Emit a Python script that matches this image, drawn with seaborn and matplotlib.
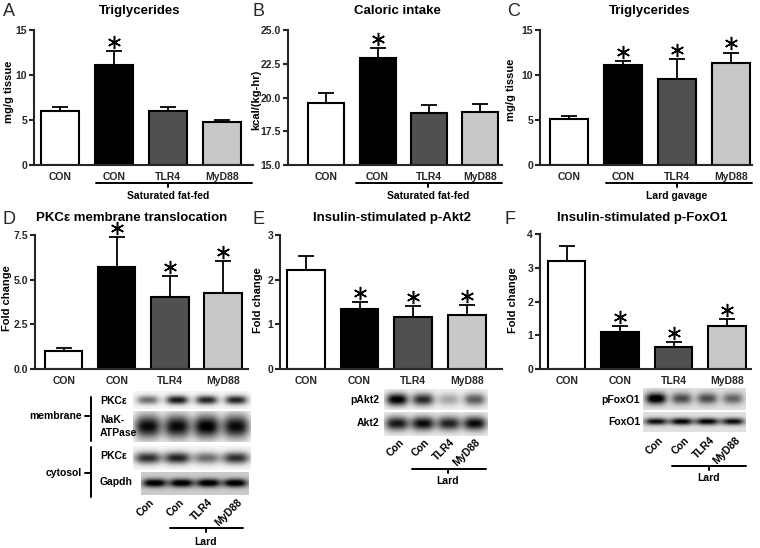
import numpy as np
import pandas as pd
import seaborn as sns
import matplotlib.pyplot as plt
from matplotlib.transforms import offset_copy

W, H = 760, 548

# bar data (mean, upper SEM)
groups = ["CON", "CON", "TLR4", "MyD88"]
bar_colors = ["#ffffff", "#000000", "#505050", "#c8c8c8"]

tg_sfa = [6.0, 11.1, 5.95, 4.75]
tg_sfa_err = [0.5, 1.6, 0.5, 0.25]
tg_sfa_sig = [0, 1, 0, 0]

kcal_sfa = [19.6, 22.95, 18.85, 18.95]
kcal_sfa_err = [0.7, 0.75, 0.6, 0.6]
kcal_sfa_sig = [0, 1, 0, 0]

tg_lard = [5.15, 11.1, 9.55, 11.35]
tg_lard_err = [0.35, 0.45, 2.2, 1.15]
tg_lard_sig = [0, 1, 1, 1]

pkce_fold = [1.0, 5.7, 4.05, 4.27]
pkce_err = [0.15, 1.7, 1.15, 1.75]
pkce_sig = [0, 1, 1, 1]

pakt2_fold = [2.22, 1.34, 1.16, 1.21]
pakt2_err = [0.31, 0.15, 0.24, 0.22]
pakt2_sig = [0, 1, 1, 1]

pfoxo1_fold = [3.19, 1.11, 0.65, 1.28]
pfoxo1_err = [0.45, 0.15, 0.16, 0.21]
pfoxo1_sig = [0, 1, 1, 1]

# western blot band intensities per lane (0 = blank, 1 = black)
lanes = ["Con", "Con", "TLR4", "MyD88"]
blot_pkce_mem = [0.55, 0.9, 0.85, 0.85]
blot_nak = [0.95, 0.95, 1.0, 0.95]
blot_pkce_cyt = [0.8, 0.85, 0.55, 0.8]
blot_gapdh = [0.9, 0.9, 0.9, 0.9]
blot_pakt2 = [1.0, 0.8, 0.3, 0.6]
blot_akt2 = [0.85, 0.9, 0.8, 0.9]
blot_pfoxo1 = [1.0, 0.6, 0.6, 0.5]
blot_foxo1 = [0.85, 0.9, 0.9, 0.85]

sns.set_style("ticks")
plt.rcParams["font.family"] = ["Liberation Sans", "DejaVu Sans"]
plt.rcParams["font.weight"] = "bold"

fig = plt.figure(figsize=(W / 100, H / 100), dpi=100)


def rect(l, t, r, b):
    return [l / W, 1 - b / H, (r - l) / W, (b - t) / H]


def bar_panel(box, vals, errs, sig, ylim, yticks, xlim, fmt):
    ax = fig.add_axes(rect(*box))
    keys = ["g0", "g1", "g2", "g3"]
    df = pd.DataFrame({"grp": keys, "val": vals})
    sns.barplot(data=df, x="grp", y="val", hue="grp", order=keys,
                palette=dict(zip(keys, bar_colors)), width=0.7,
                edgecolor="black", linewidth=1.5, legend=False, ax=ax, zorder=2)
    ax.errorbar(range(4), vals, yerr=[np.zeros(4), errs], fmt="none",
                ecolor="black", elinewidth=1.3, capsize=6, capthick=1.3, zorder=1)
    star_tr = offset_copy(ax.transData, fig=fig, y=6.5, units="points")
    for i in range(4):
        if sig[i]:
            ax.plot(i, vals[i] + errs[i], marker=(6, 2, 0), ms=9.5, mew=1.1,
                    color="black", transform=star_tr, clip_on=False)
    ax.set_ylim(*ylim)
    ax.set_xlim(*xlim)
    ax.set_yticks(yticks)
    ax.set_yticklabels([fmt.format(v) for v in yticks], fontsize=7.5, fontweight="bold")
    ax.set_xticks(range(4))
    ax.set_xticklabels(groups, fontsize=7.5, fontweight="bold")
    ax.tick_params(axis="x", length=0, pad=5)
    ax.tick_params(axis="y", length=3.5, width=1.5, pad=1.5)
    ax.set_xlabel("")
    ax.set_ylabel("")
    sns.despine(ax=ax)
    for s in ("left", "bottom"):
        ax.spines[s].set_linewidth(1.5)
    return ax


def blot(box, intens, bg=0.03, bw=0.4, bh=0.3):
    ax = fig.add_axes(rect(*box))
    u = np.linspace(-0.5, 3.5, 200)
    v = np.linspace(0, 1, 50)
    U, V = np.meshgrid(u, v)
    img = np.full(U.shape, bg)
    for i, a in enumerate(intens):
        img = img + a * np.exp(-np.abs((U - i) / bw) ** 3 - ((V - 0.5) / bh) ** 2)
    ax.imshow(np.clip(img, 0, 1), cmap="gray_r", vmin=0, vmax=1,
              aspect="auto", extent=(-0.5, 3.5, 1, 0), interpolation="bilinear")
    ax.axis("off")
    return ax


# top row
bar_panel((34, 30, 253, 165), tg_sfa, tg_sfa_err, tg_sfa_sig,
          (0, 15), [0, 5, 10, 15], (-0.48, 3.57), "{:g}")
bar_panel((288, 30, 502, 165), kcal_sfa, kcal_sfa_err, kcal_sfa_sig,
          (15, 25), [15, 17.5, 20, 22.5, 25], (-0.75, 3.43), "{:.1f}")
bar_panel((540, 30, 752, 165), tg_lard, tg_lard_err, tg_lard_sig,
          (0, 15), [0, 5, 10, 15], (-0.54, 3.39), "{:g}")

# bottom row
bar_panel((35, 235, 248, 369), pkce_fold, pkce_err, pkce_sig,
          (0, 7.5), [0, 2.5, 5, 7.5], (-0.54, 3.47), "{:.1f}")
bar_panel((280, 235, 502, 369), pakt2_fold, pakt2_err, pakt2_sig,
          (0, 3), [0, 1, 2, 3], (-0.48, 3.65), "{:g}")
bar_panel((540, 234, 751, 369), pfoxo1_fold, pfoxo1_err, pfoxo1_sig,
          (0, 4), [0, 1, 2, 3, 4], (-0.5, 3.45), "{:g}")

# blots
blot((133, 391, 250, 409), blot_pkce_mem, bw=0.38, bh=0.25)
blot((133, 411, 250, 442), blot_nak, bw=0.45, bh=0.38)
blot((133, 446, 250, 470), blot_pkce_cyt, bw=0.45, bh=0.25)
blot((141, 472, 249, 495), blot_gapdh, bg=0.2, bw=0.45, bh=0.18)
blot((384, 389, 487, 410), blot_pakt2, bg=0.05, bw=0.42, bh=0.3)
blot((384, 412, 487, 436), blot_akt2, bg=0.08, bw=0.45, bh=0.28)
blot((643, 388, 746, 410), blot_pfoxo1, bg=0.12, bw=0.4, bh=0.25)
blot((643, 412, 746, 432), blot_foxo1, bg=0.12, bw=0.45, bh=0.17)

# overlay for labels and brackets (pixel coordinates)
ov = fig.add_axes([0, 0, 1, 1])
ov.set_xlim(0, W)
ov.set_ylim(H, 0)
ov.axis("off")
ov.patch.set_visible(False)

kw = dict(fontweight="bold", color="black")
for x, y, s in [(3, 12, "A"), (252, 12, "B"), (507, 12, "C"),
                (3, 219, "D"), (253, 219, "E"), (505, 219, "F")]:
    ov.text(x, y, s, fontsize=13, fontweight="normal", va="center", ha="left")

for x, y, s in [(140, 11, "Triglycerides"), (397, 11, "Caloric intake"),
                (650, 11, "Triglycerides"), (132, 218, "PKCε membrane translocation"),
                (392, 218, "Insulin-stimulated p-Akt2"),
                (642, 218, "Insulin-stimulated p-FoxO1")]:
    ov.text(x, y, s, fontsize=9.5, ha="center", va="center", **kw)

for x, y, s in [(9, 92, "mg/g tissue"), (256, 100, "kcal/(kg-hr)"),
                (511, 90, "mg/g tissue"), (7, 298, "Fold change"),
                (258, 300, "Fold change"), (513, 300, "Fold change")]:
    ov.text(x, y, s, fontsize=8, rotation=90, ha="center", va="center", **kw)


def bracket(x0, x1, xm, y, label, dy=13):
    ov.plot([x0, x1], [y, y], color="black", lw=1.4)
    ov.plot([xm, xm], [y, y + 4], color="black", lw=1.4)
    ov.text(xm, y + dy, label, fontsize=7.5, ha="center", va="center", **kw)


bracket(96, 252, 168, 183, "Saturated fat-fed")
bracket(356, 502, 428, 183, "Saturated fat-fed")
bracket(606, 752, 677, 183, "Lard gavage")
bracket(170, 243, 206, 528, "Lard", dy=14)
bracket(412, 486, 448, 469, "Lard", dy=12)
bracket(672, 746, 709, 466, "Lard", dy=12)

# blot row labels
for x, y, s in [(100, 401, "PKCε"), (100, 420, "NaK-"), (100, 433, "ATPase"),
                (100, 456, "PKCε"), (100, 482, "Gapdh")]:
    ov.text(x, y, s, fontsize=7.5, ha="left", va="center", **kw)
for x, y, s in [(379, 400, "pAkt2"), (379, 423, "Akt2"),
                (640, 400, "pFoxO1"), (640, 422, "FoxO1")]:
    ov.text(x, y, s, fontsize=7.5, ha="right", va="center", **kw)

ov.text(82, 416, "membrane", fontsize=7.5, ha="right", va="center", **kw)
ov.text(82, 473, "cytosol", fontsize=7.5, ha="right", va="center", **kw)
ov.plot([91, 91], [397, 441], color="black", lw=1.4)
ov.plot([85, 91], [416, 416], color="black", lw=1.4)
ov.plot([91, 91], [447, 497], color="black", lw=1.4)
ov.plot([85, 91], [473, 473], color="black", lw=1.4)

# rotated lane labels under each blot
for x0, step, ytop in [(147.5, 29.2, 497), (397, 25.5, 437), (656, 25.7, 435)]:
    for i, s in enumerate(lanes):
        ov.text(x0 + i * step + 9, ytop, s, fontsize=7.5, rotation=45,
                ha="right", va="top", **kw)

fig.savefig("out.png", dpi=100)
